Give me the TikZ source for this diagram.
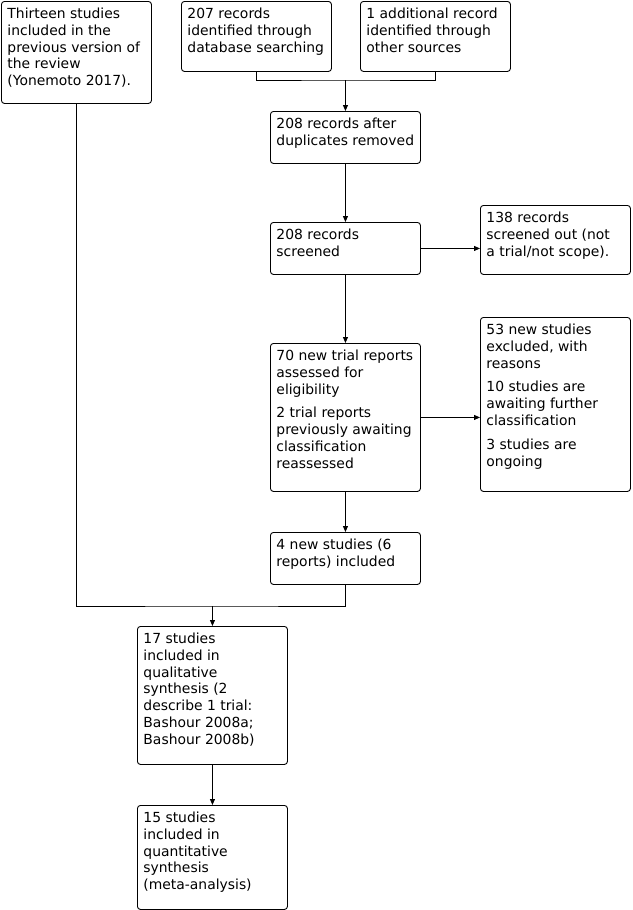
\documentclass[tikz,border=0pt]{standalone}
\usepackage{fontspec}
\setmainfont{DejaVu Sans}
\usetikzlibrary{arrows.meta,positioning,calc}
\newcommand{\flowtext}[2]{\parbox[c][#1][t]{138pt}{\raggedright\setlength{\parskip}{7pt}\rule{0pt}{17pt}#2}}
\tikzset{
  flowbox/.style={draw,line width=0.9pt,rounded corners=3pt,anchor=north west,inner xsep=6pt,inner ysep=0pt,font=\fontsize{13.9}{16.8}\selectfont},
  conn/.style={line width=0.9pt,-{Triangle[length=6pt,width=5pt]}},
  plain/.style={line width=0.9pt}
}
\begin{document}
\begin{tikzpicture}[x=1pt,y=-1pt]
  \useasboundingbox (0,0) rectangle (632,910);
  \node[flowbox] (prev) at (1,1) {\flowtext{102pt}{Thirteen studies\\ included in the\\ previous version of\\ the review\\ (Yonemoto 2017).}};
  \node[flowbox] (dbsearch) at (181,1) {\flowtext{70pt}{207 records\\ identified through\\ database searching}};
  \node[flowbox] (other) at (360,1) {\flowtext{70pt}{1 additional record\\ identified through\\ other sources}};
  \node[flowbox] (dedup) at (270,111) {\flowtext{52pt}{208 records after\\ duplicates removed}};
  \node[flowbox] (screened) at (270,222) {\flowtext{52pt}{208 records\\ screened}};
  \node[flowbox] (excl) at (480,205) {\flowtext{69pt}{138 records\\ screened out (not\\ a trial/not scope).}};
  \node[flowbox] (assessed) at (270,343) {\flowtext{148pt}{70 new trial reports\\ assessed for\\ eligibility\par 2 trial reports\\ previously awaiting\\ classification\\ reassessed}};
  \node[flowbox] (excluded) at (480,317) {\flowtext{174pt}{53 new studies\\ excluded, with\\ reasons\par 10 studies are\\ awaiting further\\ classification\par 3 studies are\\ ongoing}};
  \node[flowbox] (newinc) at (270,532) {\flowtext{52pt}{4 new studies (6\\ reports) included}};
  \node[flowbox] (qual) at (137,626) {\flowtext{138pt}{17 studies\\ included in\\ qualitative\\ synthesis (2\\ describe 1 trial:\\ Bashour 2008a;\\ Bashour 2008b)}};
  \node[flowbox] (quant) at (137,805) {\flowtext{104pt}{15 studies\\ included in\\ quantitative\\ synthesis\\ (meta-analysis)}};

  \coordinate (merge) at ($(dedup.north)+(0,-31)$);
  \coordinate (join) at ($(qual.north)+(0,-20)$);
  \draw[plain] (dbsearch.south) |- (merge) -| (other.south);
  \draw[conn] (merge) -- (dedup);
  \draw[conn] (dedup) -- (screened);
  \draw[conn] (screened.east) -- (screened.east -| excl.west);
  \draw[conn] (screened) -- (assessed);
  \draw[conn] (assessed.east) -- (assessed.east -| excluded.west);
  \draw[conn] (assessed) -- (newinc);
  \draw[plain] (prev.south) |- (join) -| (newinc.south);
  \draw[conn] (join) -- (qual);
  \draw[conn] (qual) -- (quant);
\end{tikzpicture}
\end{document}
